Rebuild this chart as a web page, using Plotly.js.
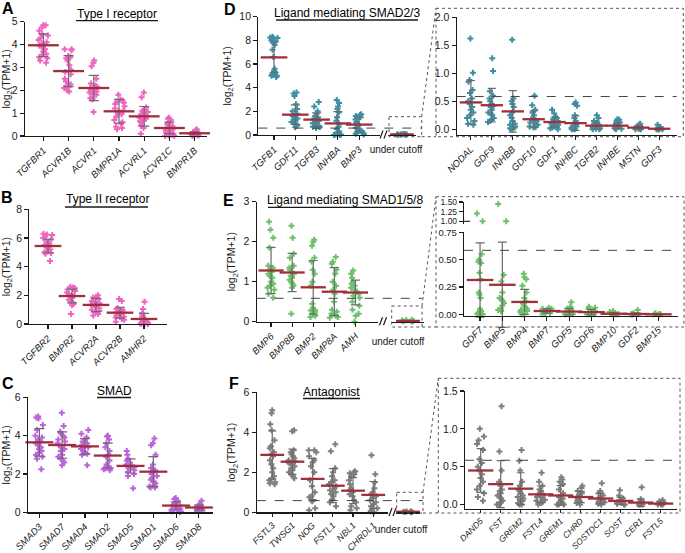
<!DOCTYPE html>
<html><head><meta charset="utf-8">
<script src="https://cdn.plot.ly/plotly-3.0.1.min.js"></script>
<style>html,body{margin:0;padding:0;background:#fff;} #chart{width:685px;height:553px;} [clip-path]{clip-path:none !important;}</style>
</head><body><div id="chart"></div>
<script>
// ---------------- DATA ----------------
const CUTOFF = 0.585;
const CUT_LABEL = ['under cutoff'];

const A_genes = ['TGFBR1','ACVR1B','ACVR1','BMPR1A','ACVRL1','ACVR1C','BMPR1B'];
const A_means = [3.97,2.84,2.10,1.08,0.86,0.35,0.12];
const A_sds   = [0.50,0.68,0.55,0.52,0.43,0.26,0.06];
const A_points = [
  [4.85,4.85,4.75,4.6,4.45,4.4,4.3,4.2,4.1,4.05,4.0,3.95,3.9,3.8,3.7,3.6,3.55,3.45,3.4,3.3,3.2],
  [3.8,3.8,3.75,3.5,3.45,3.4,3.3,3.1,2.9,2.8,2.7,2.5,2.4,2.3,2.25,2.2,2.15,2.1,2.0,1.95],
  [3.3,3.2,3.05,2.5,2.3,2.2,2.15,2.1,2.05,2.0,2.0,1.95,1.9,1.85,1.8,1.7,1.65,1.6,1.05],
  [1.8,1.6,1.55,1.5,1.45,1.4,1.3,1.2,1.1,1.05,1.0,0.95,0.85,0.7,0.6,0.55,0.4,0.35,0.3],
  [1.9,1.7,1.25,1.15,1.1,1.05,1.0,0.95,0.9,0.88,0.85,0.8,0.75,0.7,0.65,0.6,0.5,0.45,0.35,0.1],
  [0.8,0.75,0.7,0.6,0.55,0.5,0.45,0.4,0.35,0.3,0.25,0.2,0.15,0.1,0.08,0.05,0.02,0.0,0.0],
  [0.3,0.25,0.2,0.18,0.15,0.13,0.12,0.1,0.1,0.08,0.07,0.05,0.05,0.03,0.02,0.0]
];

const B_genes = ['TGFBR2','BMPR2','ACVR2A','ACVR2B','AMHR2'];
const B_means = [5.44,1.95,1.33,0.79,0.35];
const B_sds   = [0.47,0.48,0.46,0.38,0.39];
const B_points = [
  [6.3,6.25,6.2,6.1,6.0,5.9,5.75,5.6,5.5,5.45,5.4,5.3,5.2,5.1,5.0,4.95,4.9,4.4],
  [2.6,2.55,2.5,2.4,2.3,2.2,2.1,2.0,1.95,1.9,1.85,1.7,1.6,1.5,1.4,1.3,0.7],
  [2.0,1.9,1.85,1.75,1.6,1.5,1.45,1.4,1.35,1.3,1.2,1.1,1.0,0.9,0.8,0.7,0.6],
  [1.75,1.6,1.1,1.05,1.0,0.9,0.85,0.8,0.75,0.7,0.65,0.6,0.5,0.45,0.35,0.3,0.15],
  [1.55,1.05,0.75,0.6,0.5,0.45,0.4,0.35,0.3,0.25,0.2,0.15,0.1,0.05,0.0,0.0,0.0,0.0]
];

const C_genes = ['SMAD3','SMAD7','SMAD4','SMAD2','SMAD5','SMAD1','SMAD6','SMAD8'];
const C_means = [3.65,3.51,3.44,2.96,2.42,2.12,0.35,0.25];
const C_sds   = [0.72,0.69,0.40,0.65,0.37,0.78,0.19,0.12];
const C_points = [
  [5.0,4.95,4.9,4.55,4.3,4.0,3.9,3.8,3.7,3.6,3.5,3.4,3.3,3.2,3.1,3.0,2.9,2.8,2.25],
  [5.2,4.5,4.2,4.1,4.0,3.9,3.8,3.7,3.6,3.5,3.4,3.3,3.2,3.0,2.9,2.8,2.7,2.6,2.45],
  [4.3,4.1,3.9,3.8,3.7,3.6,3.5,3.45,3.4,3.35,3.3,3.2,3.1,3.05,3.0,2.45],
  [4.0,3.95,3.8,3.6,3.4,3.2,3.0,2.9,2.7,2.5,2.4,2.35,2.3,2.3,2.25,2.2],
  [3.2,3.0,2.8,2.7,2.6,2.5,2.45,2.4,2.35,2.3,2.2,2.1,2.0,1.9,1.25],
  [3.85,3.6,3.5,3.0,2.5,2.3,2.2,2.1,2.0,1.9,1.8,1.7,1.6,1.5,1.4,1.35,1.3,1.3],
  [0.75,0.7,0.6,0.5,0.45,0.4,0.35,0.3,0.25,0.2,0.15,0.1,0.05,0.05,0.0],
  [0.6,0.45,0.4,0.35,0.3,0.25,0.2,0.2,0.15,0.1,0.1,0.05]
];

const D1_genes = ['TGFB1','GDF11','TGFB3','INHBA','BMP3'];
const D1_means = [6.56,1.72,1.30,0.98,0.88];
const D1_sds   = [1.30,0.82,0.57,1.00,0.60];
const D1_points = [
  [8.3,8.25,8.2,8.2,8.1,8.0,7.9,7.8,7.6,7.2,6.6,5.6,5.4,5.3,5.2,5.1,5.0,5.0,4.9],
  [3.6,3.5,3.3,2.6,2.2,2.0,1.8,1.7,1.6,1.5,1.4,1.3,1.2,1.1,1.0,0.9,0.8,0.65],
  [2.8,2.4,2.0,1.8,1.6,1.5,1.4,1.3,1.2,1.1,1.0,0.9,0.8,0.75,0.7,0.65,0.6],
  [2.95,2.7,2.4,2.2,1.9,1.5,1.2,0.9,0.7,0.5,0.3,0.2,0.15,0.1,0.05,0.05,0.0,0.0],
  [1.75,1.7,1.6,1.5,1.4,1.3,1.1,1.0,0.9,0.8,0.6,0.5,0.4,0.3,0.2,0.15,0.1,0.05]
];
const D_cut_mean = [0.05];
const D_cut_sd = [0.02];
const D_cut_points = [[0.02,0.03,0.04,0.05,0.05,0.06,0.07,0.08]];

const D2_genes = ['NODAL','GDF9','INHBB','GDF10','GDF1','INHBC','TGFB2','INHBE','MSTN','GDF3'];
const D2_means = [0.48,0.43,0.32,0.18,0.13,0.11,0.065,0.065,0.03,0.01];
const D2_sds   = [0.39,0.30,0.37,0.15,0.09,0.13,0.06,0.05,0.03,0.02];
const D2_points = [
  [1.62,1.01,0.88,0.85,0.7,0.65,0.55,0.5,0.45,0.4,0.35,0.3,0.25,0.2,0.15,0.1,0.08],
  [1.27,1.04,0.68,0.6,0.55,0.5,0.45,0.42,0.4,0.35,0.3,0.28,0.25,0.2,0.18,0.15,0.13],
  [1.6,0.55,0.5,0.45,0.4,0.3,0.25,0.2,0.15,0.1,0.08,0.05,0.05,0.03,0.02,0.0],
  [0.6,0.43,0.35,0.3,0.25,0.2,0.18,0.15,0.12,0.1,0.08,0.05,0.04,0.03],
  [0.35,0.28,0.22,0.2,0.18,0.15,0.13,0.12,0.1,0.08,0.07,0.05,0.04,0.03,0.02,0.0],
  [0.48,0.45,0.42,0.25,0.2,0.15,0.1,0.08,0.06,0.05,0.04,0.03,0.02,0.01,0.0,0.0],
  [0.25,0.2,0.15,0.12,0.1,0.08,0.06,0.05,0.04,0.03,0.02,0.01,0.0,0.0],
  [0.18,0.17,0.15,0.12,0.1,0.08,0.06,0.05,0.04,0.03,0.02,0.01,0.0],
  [0.1,0.08,0.06,0.05,0.04,0.03,0.02,0.01,0.01,0.0,0.0],
  [0.08,0.04,0.02,0.01,0.0,0.0,0.0,0.0,0.0]
];

const E1_genes = ['BMP6','BMP8B','BMP2','BMP8A','AMH'];
const E1_means = [1.28,1.23,0.86,0.75,0.73];
const E1_sds   = [0.58,0.48,0.67,0.60,0.31];
const E1_points = [
  [2.5,2.3,2.1,1.85,1.4,1.35,1.3,1.25,1.2,1.15,1.1,1.0,0.95,0.9,0.85,0.8,0.7,0.6],
  [2.4,2.1,1.7,1.6,1.4,1.35,1.3,1.25,1.2,1.15,1.1,1.05,1.0,0.95,0.9,0.85,0.2],
  [2.05,2.0,1.9,1.6,1.5,1.3,1.2,1.0,0.9,0.45,0.35,0.3,0.28,0.25,0.2,0.15,0.12],
  [1.62,1.5,1.45,1.3,1.2,1.0,0.9,0.8,0.7,0.5,0.3,0.25,0.2,0.15,0.12,0.1],
  [1.28,1.2,1.1,1.0,0.95,0.9,0.85,0.8,0.75,0.7,0.65,0.6,0.5,0.4,0.3,0.2,0.15,0.0]
];
const E_cut_mean = [0.02];
const E_cut_sd = [0.01];
const E_cut_points = [[0.0,0.01,0.02,0.03,0.04,0.05]];

const E2_genes = ['GDF7','BMP5','BMP4','BMP7','GDF5','GDF6','BMP10','GDF2','BMP15'];
const E2_means = [0.314,0.27,0.113,0.03,0.025,0.02,0.005,0.003,0.0];
const E2_sds   = [0.34,0.39,0.115,0.02,0.03,0.025,0.01,0.01,0.005];
const E2_points = [
  [1.2,1.0,0.55,0.5,0.48,0.47,0.38,0.32,0.2,0.18,0.15,0.05,0.03,0.02,0.01,0.0,0.0,0.0],
  [1.45,1.0,0.36,0.3,0.2,0.15,0.14,0.12,0.1,0.08,0.05,0.04,0.03],
  [0.37,0.34,0.32,0.26,0.2,0.15,0.12,0.1,0.08,0.06,0.05,0.04,0.03,0.02,0.0,0.0],
  [0.06,0.05,0.05,0.04,0.04,0.03,0.03,0.02,0.02,0.01,0.01,0.0],
  [0.11,0.07,0.05,0.04,0.03,0.02,0.01,0.0,0.0,0.0],
  [0.07,0.06,0.05,0.03,0.02,0.01,0.0,0.0,0.0],
  [0.03,0.02,0.01,0.0,0.0,0.0,0.0],
  [0.04,0.01,0.0,0.0,0.0,0.0],
  [0.01,0.0,0.0,0.0,0.0]
];

const F1_genes = ['FSTL3','TWSG1','NOG','FSTL1','NBL1','CHRDL1'];
const F1_means = [2.87,2.53,1.67,1.33,1.08,0.87];
const F1_sds   = [1.20,0.63,1.03,0.85,0.65,0.67];
const F1_points = [
  [5.1,4.95,4.4,4.1,3.6,3.3,3.2,3.0,2.9,2.8,2.6,2.4,2.2,2.0,1.8,1.65,1.6,1.5,1.45,1.4],
  [4.1,4.05,3.1,3.0,2.9,2.8,2.7,2.6,2.55,2.5,2.45,2.4,2.3,2.2,2.1,2.0,1.9,1.8,1.7],
  [3.1,3.1,3.0,2.8,2.6,2.5,2.3,2.0,1.6,1.3,1.0,0.8,0.75,0.6,0.55,0.2,0.1],
  [3.4,3.05,2.2,2.0,1.8,1.6,1.5,1.4,1.3,1.2,1.1,1.0,0.9,0.8,0.65,0.5,0.3],
  [2.05,2.0,1.95,1.9,1.8,1.6,1.4,1.2,1.1,1.0,0.9,0.8,0.6,0.5,0.3,0.2,0.1],
  [2.85,1.9,1.5,1.2,1.0,0.9,0.8,0.7,0.6,0.5,0.4,0.3,0.2,0.1,0.05,0.0]
];
const F_cut_mean = [0.03];
const F_cut_sd = [0.01];
const F_cut_points = [[0.0,0.01,0.02,0.03,0.04,0.05]];

const F2_genes = ['DAND5','FST','GREM2','FSTL4','GREM1','CHRD','SOSTDC1','SOST','CER1','FSTL5'];
const F2_means = [0.45,0.27,0.21,0.135,0.12,0.10,0.08,0.048,0.026,0.013];
const F2_sds   = [0.29,0.31,0.21,0.11,0.13,0.075,0.07,0.05,0.05,0.02];
const F2_points = [
  [1.0,0.9,0.85,0.8,0.72,0.6,0.55,0.5,0.45,0.4,0.35,0.3,0.25,0.2,0.15,0.1,0.05],
  [1.3,0.7,0.45,0.3,0.28,0.25,0.2,0.18,0.15,0.12,0.1,0.08,0.05,0.03,0.0,0.0],
  [0.72,0.58,0.45,0.3,0.25,0.2,0.18,0.15,0.12,0.1,0.08,0.06,0.05,0.02,0.0,0.0],
  [0.42,0.3,0.25,0.2,0.18,0.15,0.13,0.12,0.1,0.08,0.06,0.05,0.03,0.02,0.0],
  [0.36,0.33,0.3,0.27,0.2,0.15,0.1,0.08,0.05,0.03,0.02,0.0,0.0,0.0],
  [0.25,0.22,0.18,0.15,0.12,0.1,0.08,0.07,0.05,0.04,0.02,0.0],
  [0.28,0.18,0.15,0.12,0.1,0.08,0.06,0.05,0.04,0.03,0.02,0.01,0.0],
  [0.19,0.12,0.08,0.06,0.05,0.04,0.03,0.02,0.01,0.0,0.0],
  [0.23,0.07,0.05,0.04,0.03,0.02,0.01,0.0,0.0,0.0],
  [0.06,0.04,0.03,0.02,0.01,0.0,0.0,0.0]
];

// ---------------- STYLE ----------------
const W = 685, H = 553;
const FONT = 'Arial, "Liberation Sans", Helvetica, sans-serif';
const INK = '#1a1a1a';
const RED = '#9e2f3b';
const BAR = '#6b6b6b';
const PINK = '#ef64c2', VIOLET = '#bf63dd', TEAL = '#3d8ea2', GREEN = '#6cc06a', GREY = '#7e7e7e';
const fx = x => x / W;
const fy = y => 1 - y / H;

function xax(l, r, range, cats, anchor, italic, opts) {
  opts = opts || {};
  const a = {
    domain: [fx(l), fx(r)], range: range, anchor: anchor,
    type: 'category', categoryorder: 'array', categoryarray: cats,
    showline: true, linecolor: INK, linewidth: 1.2,
    ticks: italic ? 'outside' : '', ticklen: opts.ticklen || 4, tickwidth: 1.1, tickcolor: INK,
    tickangle: italic ? -45 : 0,
    tickfont: {family: FONT, size: opts.fsize || (italic ? 9.5 : 10), color: INK, style: italic ? 'italic' : 'normal'},
    showgrid: false, zeroline: false, fixedrange: true
  };
  if (opts.shift !== undefined) { a.ticklabelshift = opts.shift; a.ticklabelstandoff = opts.standoff; }
  return a;
}
function yax(bottom, top, range, vals, fmt, anchor, withTitle, fsize) {
  const a = {
    domain: [fy(bottom), fy(top)], range: range, anchor: anchor,
    tickmode: 'array', tickvals: vals, tickformat: fmt,
    showline: true, linecolor: INK, linewidth: 1.2,
    ticks: 'outside', ticklen: 4, tickwidth: 1.1, tickcolor: INK,
    tickfont: {family: FONT, size: fsize || 10.5, color: INK},
    showgrid: false, zeroline: false, fixedrange: true
  };
  if (withTitle) a.title = {text: 'log<sub>2</sub>(TPM+1)', font: {family: FONT, size: 10.5, color: INK}, standoff: 5};
  return a;
}
function dots(genes, pts, xa, ya, color, filter) {
  const xs = [], ys = [];
  genes.forEach((g, i) => pts[i].forEach(v => { if (!filter || filter(v)) { xs.push(g); ys.push(v); } }));
  return {type: 'box', x: xs, y: ys, xaxis: xa, yaxis: ya, boxpoints: 'all', jitter: 0.55, pointpos: 0, width: 0.8,
    fillcolor: 'rgba(0,0,0,0)', line: {color: 'rgba(0,0,0,0)', width: 0},
    marker: {symbol: 'cross', size: 5, color: color, line: {width: 0}},
    hoverinfo: 'skip', showlegend: false};
}
function meanBar(genes, means, sds, xa, ya, size, cap) {
  return {type: 'scatter', mode: 'markers', x: genes, y: means, xaxis: xa, yaxis: ya, cliponaxis: false,
    marker: {symbol: 'line-ew', size: size, color: RED, line: {color: RED, width: 2.3}},
    error_y: {type: 'data', array: sds, visible: true, color: BAR, thickness: 1.2, width: cap},
    hoverinfo: 'skip', showlegend: false};
}

const traces = [
  dots(A_genes, A_points, 'x', 'y', PINK),
  dots(B_genes, B_points, 'x2', 'y2', PINK),
  dots(C_genes, C_points, 'x3', 'y3', VIOLET),
  dots(D1_genes, D1_points, 'x4', 'y4', TEAL),
  dots(CUT_LABEL, D_cut_points, 'x5', 'y4', TEAL),
  dots(D2_genes, D2_points, 'x6', 'y6', TEAL),
  dots(E1_genes, E1_points, 'x7', 'y7', GREEN),
  dots(CUT_LABEL, E_cut_points, 'x8', 'y7', GREEN),
  dots(E2_genes, E2_points, 'x9', 'y9', GREEN, v => v <= 0.75),
  dots(E2_genes, E2_points, 'x9', 'y10', GREEN, v => v > 0.75),
  dots(F1_genes, F1_points, 'x11', 'y11', GREY),
  dots(CUT_LABEL, F_cut_points, 'x12', 'y11', GREY),
  dots(F2_genes, F2_points, 'x13', 'y13', GREY),
  meanBar(A_genes, A_means, A_sds, 'x', 'y', 22, 5),
  meanBar(B_genes, B_means, B_sds, 'x2', 'y2', 19, 5),
  meanBar(C_genes, C_means, C_sds, 'x3', 'y3', 20, 5),
  meanBar(D1_genes, D1_means, D1_sds, 'x4', 'y4', 19, 4.5),
  meanBar(CUT_LABEL, D_cut_mean, D_cut_sd, 'x5', 'y4', 17, 3),
  meanBar(D2_genes, D2_means, D2_sds, 'x6', 'y6', 16, 4),
  meanBar(E1_genes, E1_means, E1_sds, 'x7', 'y7', 18, 4.5),
  meanBar(CUT_LABEL, E_cut_mean, E_cut_sd, 'x8', 'y7', 17, 3),
  meanBar(E2_genes, E2_means, E2_sds, 'x9', 'y9', 19, 4.5),
  meanBar(F1_genes, F1_means, F1_sds, 'x11', 'y11', 17, 4),
  meanBar(CUT_LABEL, F_cut_mean, F_cut_sd, 'x12', 'y11', 17, 3),
  meanBar(F2_genes, F2_means, F2_sds, 'x13', 'y13', 18, 4)
];

function seg(x0, y0, x1, y1, color, width, dash) {
  return {type: 'line', xref: 'paper', yref: 'paper', x0: fx(x0), x1: fx(x1), y0: fy(y0), y1: fy(y1),
    line: {color: color, width: width, dash: dash || 'solid'}};
}
function hline(x0, x1, y, color, width) { return seg(x0, y, x1, y, color, width); }
function rect(x0, y0, x1, y1) {
  return {type: 'rect', xref: 'paper', yref: 'paper', x0: fx(x0), x1: fx(x1), y0: fy(y0), y1: fy(y1),
    line: {color: '#555', width: 1, dash: 'dot'}, fillcolor: 'rgba(0,0,0,0)'};
}
function cutline(x0, x1, yref) {
  return {type: 'line', xref: 'paper', yref: yref, x0: fx(x0), x1: fx(x1), y0: CUTOFF, y1: CUTOFF,
    line: {color: '#444', width: 1, dash: 'dash'}};
}
function brk(x, y) {
  return [seg(x, y + 4, x + 3, y - 4, INK, 1.2), seg(x + 4, y + 4, x + 7, y - 4, INK, 1.2)];
}

const shapes = [
  hline(76, 158, 20.7, INK, 1.3),
  hline(65, 148, 207, INK, 1.3),
  hline(97, 131, 397.5, INK, 1.3),
  hline(276, 418, 20, INK, 1.3),
  hline(268, 421, 207.3, INK, 1.3),
  hline(303, 360, 398.5, INK, 1.3),
  cutline(258.3, 421.7, 'y4'), cutline(456.7, 676.7, 'y6'),
  cutline(256.7, 422, 'y7'), cutline(464, 678, 'y9'),
  cutline(256.7, 423, 'y11'), cutline(465, 676.7, 'y13'),
  rect(389, 116.7, 421.7, 136.7), rect(436, 8.3, 683.3, 136.7),
  seg(421.7, 116.7, 436, 8.3, '#555', 1, 'dot'), seg(421.7, 136.7, 436, 136.7, '#555', 1, 'dot'),
  rect(391.7, 306, 422, 327), rect(436, 196.7, 684, 327),
  seg(422, 306, 436, 196.7, '#555', 1, 'dot'), seg(422, 327, 436, 327, '#555', 1, 'dot'),
  rect(396.7, 492.3, 423, 513), rect(438.3, 378.3, 680, 513),
  seg(423, 492.3, 438.3, 378.3, '#555', 1, 'dot'), seg(423, 513, 438.3, 513, '#555', 1, 'dot'),
  seg(464, 221.3, 470, 221.3, INK, 1.1),
  ...brk(380, 134.5), ...brk(379.5, 321.2), ...brk(389, 512)
];

function ann(text, x, y, size, bold) {
  return {text: bold ? '<b>' + text + '</b>' : text, xref: 'paper', yref: 'paper', x: fx(x), y: fy(y),
    xanchor: 'center', yanchor: 'middle', showarrow: false, font: {family: FONT, size: size, color: '#000'}};
}
const annotations = [
  ann('A', 7.5, 8.5, 16, true), ann('B', 7, 198, 16, true), ann('C', 7.5, 383, 16, true),
  ann('D', 230, 9.5, 16, true), ann('E', 228, 200, 16, true), ann('F', 234, 383, 16, true),
  ann('Type I receptor', 117, 13.5, 12), ann('Type II receptor', 107, 199.5, 12), ann('SMAD', 114, 391, 12),
  ann('Ligand mediating SMAD2/3', 346.7, 13, 12), ann('Ligand mediating SMAD1/5/8', 345, 200, 12),
  ann('Antagonist', 331.7, 392, 12)
];

const layout = {
  width: W, height: H, margin: {l: 0, r: 0, t: 0, b: 0},
  paper_bgcolor: '#fff', plot_bgcolor: 'rgba(0,0,0,0)', showlegend: false,
  font: {family: FONT, color: INK}, boxmode: 'overlay',
  xaxis: xax(25, 206.7, [-0.73, 6.48], A_genes, 'y', true),
  yaxis: yax(136, 21.7, [0, 5], [0,1,2,3,4,5], 'd', 'x', true),
  xaxis2: xax(29.3, 167, [-0.78, 4.96], B_genes, 'y2', true),
  yaxis2: yax(324, 209.3, [0, 8], [0,2,4,6,8], 'd', 'x2', true),
  xaxis3: xax(28, 213, [-0.5, 7.62], C_genes, 'y3', true),
  yaxis3: yax(512.3, 397.3, [0, 6], [0,2,4,6], 'd', 'x3', true),
  xaxis4: xax(258.3, 380, [-0.74, 4.98], D1_genes, 'y4', true),
  yaxis4: yax(135, 16.7, [0, 10], [0,2,4,6,8,10], 'd', 'x4', true),
  xaxis5: xax(388, 416, [-0.5, 0.5], CUT_LABEL, 'y4', false, {shift: -6, standoff: 5}),
  xaxis6: xax(456.7, 676.7, [-0.68, 9.84], D2_genes, 'y6', true),
  yaxis6: yax(134.9, 17.3, [-0.1, 2.0], [0,0.5,1,1.5,2], '.1f', 'x6', false),
  xaxis7: xax(256.7, 378, [-0.68, 5.07], E1_genes, 'y7', true),
  yaxis7: yax(321.7, 201.7, [0, 3], [0,1,2,3], 'd', 'x7', true),
  xaxis8: xax(392, 424, [-0.5, 0.5], CUT_LABEL, 'y7', false, {shift: -10, standoff: 10}),
  xaxis9: xax(464, 678, [-0.72, 8.88], E2_genes, 'y9', true),
  yaxis9: yax(315.5, 232.3, [-0.011, 0.75], [0,0.25,0.5,0.75], '.2f', 'x9', false, 9.5),
  yaxis10: yax(224, 202, [0.93, 1.5], [1,1.25,1.5], '.2f', 'x9', false, 8.5),
  xaxis11: xax(256.7, 388, [-0.77, 5.73], F1_genes, 'y11', true, {fsize: 9, ticklen: 3}),
  yaxis11: yax(512.3, 392.3, [0, 6], [0,2,4,6], 'd', 'x11', true),
  xaxis12: xax(396, 420, [-0.5, 0.5], CUT_LABEL, 'y11', false, {shift: -7, standoff: 7}),
  xaxis13: xax(465, 676.7, [-0.785, 9.8], F2_genes, 'y13', true, {fsize: 8.5, ticklen: 3}),
  yaxis13: yax(508.5, 391, [-0.052, 1.5], [0,0.5,1,1.5], '.1f', 'x13', false),
  shapes: shapes, annotations: annotations
};

Plotly.newPlot('chart', traces, layout, {staticPlot: true, displayModeBar: false});
</script>
</body></html>
